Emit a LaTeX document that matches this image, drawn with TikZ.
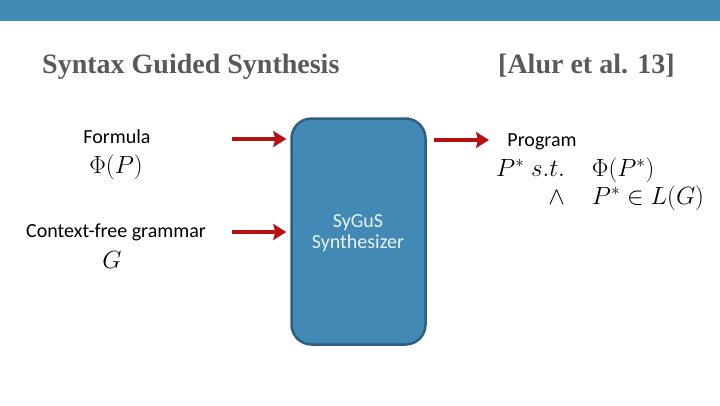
\documentclass[tikz,border=0pt]{standalone}
\usepackage{fontspec}
\setmainfont{Liberation Serif}
\newfontfamily\calib{Carlito}
\usetikzlibrary{arrows.meta}
\definecolor{barblue}{RGB}{64,139,180}
\definecolor{boxblue}{RGB}{66,137,181}
\definecolor{boxedge}{RGB}{47,95,128}
\definecolor{titlegray}{RGB}{89,89,89}
\definecolor{arrred}{RGB}{180,18,18}
\tikzset{
  lbl/.style={font=\calib\fontsize{20}{22}\selectfont, inner sep=0pt, anchor=center},
  mathlbl/.style={font=\fontsize{27}{28}\selectfont, inner sep=0pt, anchor=center},
  title/.style={font=\bfseries\fontsize{28}{30}\selectfont, text=titlegray, inner sep=0pt, anchor=base west},
  redarrow/.style={draw=arrred, line width=3.8pt, -{Stealth[length=13pt,width=16pt,inset=2pt]}},
}
\begin{document}
\begin{tikzpicture}[x=1pt,y=-1pt]
\useasboundingbox (0,0) rectangle (720,405);
\fill[barblue] (0,0) rectangle (720,21);
\node[title] (t1) at (42,73) {Syntax Guided Synthesis};
\node[title] (t2) at (498,73) {[Alur et al. 13]};
\node[draw=boxedge, line width=2.5pt, fill=boxblue, rounded corners=20pt,
      minimum width=134pt, minimum height=226pt, inner sep=0pt] (box) at (358.5,231.5) {};
\node[lbl, text=white!90!boxblue, align=center] (syn) at (358,233) {SyGuS\\[-1pt]Synthesizer};
\node[lbl] (form) at (117,137) {Formula};
\node[mathlbl] (phi) at (116,167) {$\Phi(P)$};
\node[lbl] (cfg) at (116,232) {Context-free grammar};
\node[mathlbl] (g) at (112,260) {$G$};
\node[lbl] (prog) at (542,142) {Program};
\node[mathlbl, anchor=west] (res) at (496,185) {$\begin{array}{@{}r@{\quad}l@{}} P^*\ s.t. & \Phi(P^*)\\ \wedge & P^*\in L(G)\end{array}$};
\coordinate (a1s) at (232,139);
\coordinate (a2s) at (232,232);
\coordinate (a3e) at (489,140);
\draw[redarrow] (a1s) -- ([xshift=-4pt]a1s -| box.west);
\draw[redarrow] (a2s) -- ([xshift=-4pt]a2s -| box.west);
\draw[redarrow] (box.east |- a3e) ++(7,0) -- (a3e);
\end{tikzpicture}
\end{document}
